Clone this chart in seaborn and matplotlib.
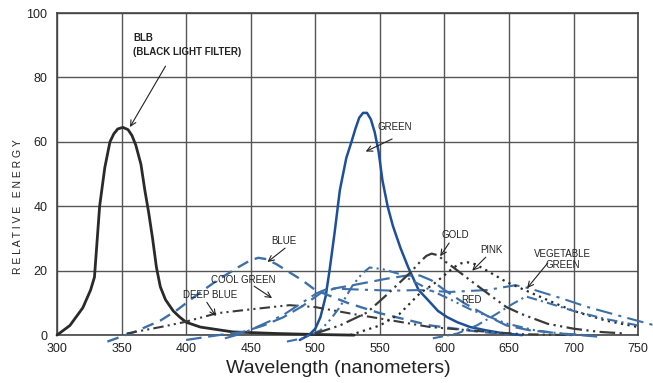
import matplotlib
matplotlib.use("Agg")
import matplotlib.pyplot as plt
import seaborn as sns

# spectral curves (wavelength nm, relative energy)
blb_x = [300, 310, 320, 326, 329, 333, 337, 341, 344, 347, 351, 355, 358, 361, 365, 368, 371, 374, 377, 380, 384, 390, 395, 400, 411, 436, 470, 500, 530]
blb_y = [0, 3, 8.5, 14, 18, 40, 52, 60, 62.5, 64, 64.5, 63.8, 62, 59, 53, 45, 38, 30, 21, 15, 11, 7.5, 5.6, 4, 2.5, 1, 0.5, 0.2, 0]

green_x = [488, 495, 500, 504, 508, 511, 515, 519, 524, 528, 531, 534, 537, 540, 543, 546, 549, 552, 556, 560, 566, 572, 580, 587, 595, 602, 610, 620, 632, 645, 660]
green_y = [-1.5, 0, 2, 5.6, 12, 20, 32, 45, 55, 60, 64, 67.5, 69, 69, 67, 63, 57, 48, 40, 34, 27, 21, 14, 11, 7.5, 5.6, 4, 2.5, 1.5, 0.6, 0]

blue_x = [339, 360, 380, 393, 410, 424, 440, 450, 456, 462, 470, 478, 490, 500, 525, 550, 589, 628, 650]
blue_y = [-2, 1, 4.5, 7.8, 13, 17, 21, 23.3, 24, 23.6, 22, 20, 17, 14, 10, 6.8, 3, 1, 0.3]

deep_blue_x = [354, 380, 398, 424, 450, 480, 500, 530, 560, 589, 628, 660, 700]
deep_blue_y = [0.5, 2.5, 4, 6.8, 8, 9.3, 8.7, 6.5, 4.5, 2.5, 1.2, 0.3, 0]

cool_green_x = [478, 490, 504, 512, 519, 529, 536, 542, 552, 565, 589, 605, 620, 648, 670, 690, 710]
cool_green_y = [-2, -1, 1.5, 5, 8.7, 15.5, 19, 21, 20.5, 19, 14, 11, 8, 3.6, 1.5, 0.5, 0]

broad_x = [400, 425, 444, 460, 475, 490, 504, 515, 529, 555, 571, 581, 590, 600, 615, 633, 648, 666, 690, 720]
broad_y = [-1.5, 0, 1, 3, 5.5, 9, 13, 14.5, 15.5, 17.5, 18.5, 18.5, 17, 14, 10, 6, 3, 1.5, 0.5, -0.5]

veg_green_x = [430, 444, 475, 501, 510, 530, 560, 581, 604, 633, 655, 665, 690, 711, 740, 763]
veg_green_y = [-1, 0.6, 6.2, 13, 14.5, 14.2, 13.8, 14, 13.4, 14, 15.5, 14.6, 11.5, 8.7, 5.5, 3]

gold_x = [500, 519, 540, 555, 574, 581, 586, 590, 595, 600, 607, 620, 635, 648, 660, 680, 700, 720, 740]
gold_y = [0.5, 3, 7, 12.4, 19.6, 22.7, 24.6, 25.3, 24.8, 23, 21, 17, 12.5, 8.7, 6.5, 3.5, 2, 1, 0.5]

pink_x = [527, 550, 565, 581, 592, 600, 607, 613, 618, 624, 633, 648, 665, 685, 700, 725, 750]
pink_y = [0, 3, 6.5, 13, 16, 18.6, 21, 22.3, 22.6, 22, 20, 16.5, 13.5, 10, 7.5, 4.5, 2.5]

red_x = [591, 610, 625, 640, 652, 663, 680, 700, 725, 750]
red_y = [-1, 0.5, 3, 6.5, 9.5, 12, 10, 7.5, 5, 3]

x_ticks = [300, 350, 400, 450, 500, 550, 600, 650, 700, 750]
y_ticks = [0, 20, 40, 60, 80, 100]

dark = "#2a2a2a"
gray = "#3a3a3a"
navy = "#1d4f9a"
steel = "#3d6fa8"

sns.set_style("white")
plt.rcParams["font.family"] = ["Liberation Sans", "DejaVu Sans"]

fig = plt.figure(figsize=(6.53, 3.83), dpi=100)
ax = fig.add_axes([0.0873, 0.125, 0.890, 0.841])

series = [
    (blb_x, blb_y, dark, "-", 2.0),
    (green_x, green_y, navy, "-", 1.8),
    (blue_x, blue_y, steel, (0, (5, 3)), 1.7),
    (deep_blue_x, deep_blue_y, gray, (0, (5, 2, 1, 2, 1, 2)), 1.5),
    (cool_green_x, cool_green_y, steel, (0, (5, 2, 1, 2, 1, 2)), 1.5),
    (broad_x, broad_y, steel, (0, (7, 3)), 1.6),
    (veg_green_x, veg_green_y, steel, (0, (8, 3, 1.5, 3)), 1.5),
    (gold_x, gold_y, gray, (0, (7, 2, 1, 2, 1, 2)), 1.6),
    (pink_x, pink_y, dark, (0, (1, 2)), 1.6),
    (red_x, red_y, steel, (0, (5, 2, 1, 2)), 1.5),
]
for xs, ys, col, ls, lw in series:
    sns.lineplot(x=xs, y=ys, ax=ax, color=col, linestyle=ls, linewidth=lw,
                 sort=False, estimator=None, clip_on=False, zorder=3)

ax.set_xlim(300, 750)
ax.set_ylim(0, 100)
ax.set_xticks(x_ticks)
ax.set_yticks(y_ticks)
ax.grid(True, color="#555555", linewidth=1.0)
ax.set_axisbelow(True)
for s in ax.spines.values():
    s.set_color("#444444")
    s.set_linewidth(1.2)
ax.tick_params(axis="x", labelsize=9, length=0, pad=6, colors="#222222")
ax.tick_params(axis="y", labelsize=9, length=0, pad=7, colors="#222222")

fig.text(0.027, 0.46, "R E L A T I V E   E N E R G Y", rotation=90, ha="center", va="center",
         fontsize=7.5, color="#222222")
fig.text(0.518, 0.037, "Wavelength (nanometers)", ha="center", va="center", fontsize=14,
         color="#222222")

txt = dict(fontsize=7, color="#222222", ha="left", va="center")
arrow = dict(arrowstyle="->", color="#222222", lw=0.8, shrinkA=0, shrinkB=0)

ax.text(359, 92.2, "BLB", fontweight="bold", **txt)
ax.text(359, 87.9, "(BLACK LIGHT FILTER)", fontweight="bold", **txt)
ax.annotate("", xy=(356.5, 64.6), xytext=(384, 83.5), arrowprops=arrow)

ax.text(548, 64.6, "GREEN", **txt)
ax.annotate("", xy=(539, 57), xytext=(559.5, 60.9), arrowprops=arrow)

ax.text(466, 29.2, "BLUE", **txt)
ax.annotate("", xy=(463, 22.7), xytext=(476.6, 27), arrowprops=arrow)

ax.text(419, 17, "COOL GREEN", **txt)
ax.annotate("", xy=(466.5, 11.5), xytext=(452.6, 15.2), arrowprops=arrow)

ax.text(397.6, 12.4, "DEEP BLUE", **txt)
ax.annotate("", xy=(423, 5.9), xytext=(416, 10.2), arrowprops=arrow)

ax.text(598, 31, "GOLD", **txt)
ax.annotate("", xy=(596.7, 24.5), xytext=(603.6, 28.6), arrowprops=arrow)

ax.text(627.6, 26.4, "PINK", **txt)
ax.annotate("", xy=(621.5, 20), xytext=(632, 24.2), arrowprops=arrow)

ax.text(669.5, 25.2, "VEGETABLE", **txt)
ax.text(678, 21.8, "GREEN", **txt)
ax.annotate("", xy=(664, 14.6), xytext=(680, 22.4), arrowprops=arrow)

ax.text(613, 10.9, "RED", **txt)

fig.savefig("out.png", dpi=100)
